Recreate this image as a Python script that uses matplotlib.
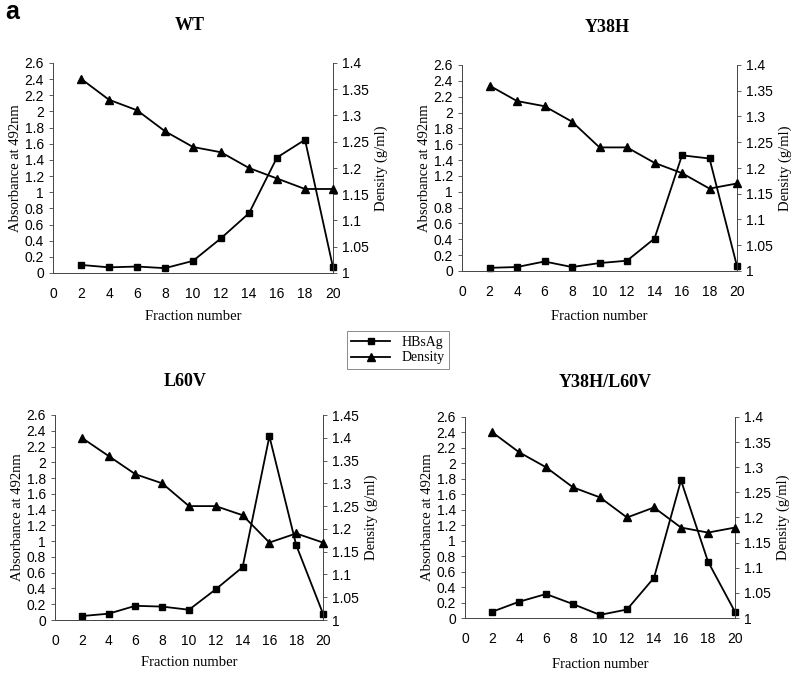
import matplotlib.pyplot as plt

fractions = [2, 4, 6, 8, 10, 12, 14, 16, 18, 20]
panel_titles = ['WT', 'Y38H', 'L60V', 'Y38H/L60V']

hbsag_wt = [0.10, 0.07, 0.08, 0.06, 0.15, 0.43, 0.74, 1.43, 1.65, 0.07]
density_wt = [1.37, 1.33, 1.31, 1.27, 1.24, 1.23, 1.20, 1.18, 1.16, 1.16]

hbsag_y38h = [0.04, 0.05, 0.12, 0.05, 0.10, 0.13, 0.41, 1.46, 1.42, 0.06]
density_y38h = [1.36, 1.33, 1.32, 1.29, 1.24, 1.24, 1.21, 1.19, 1.16, 1.17]

hbsag_l60v = [0.05, 0.08, 0.18, 0.17, 0.13, 0.39, 0.67, 2.33, 0.95, 0.08]
density_l60v = [1.40, 1.36, 1.32, 1.30, 1.25, 1.25, 1.23, 1.17, 1.19, 1.17]

hbsag_dbl = [0.08, 0.21, 0.31, 0.18, 0.04, 0.11, 0.52, 1.78, 0.73, 0.08]
density_dbl = [1.37, 1.33, 1.30, 1.26, 1.24, 1.20, 1.22, 1.18, 1.17, 1.18]

abs_ticks = [0, 0.2, 0.4, 0.6, 0.8, 1, 1.2, 1.4, 1.6, 1.8, 2, 2.2, 2.4, 2.6]
dens_ticks_a = [1, 1.05, 1.1, 1.15, 1.2, 1.25, 1.3, 1.35, 1.4]
dens_ticks_b = [1, 1.05, 1.1, 1.15, 1.2, 1.25, 1.3, 1.35, 1.4, 1.45]

W, H = 800, 676
# pixel boxes: left, right, top, bottom
boxes = [(53, 333, 63, 273), (462, 737, 65, 271), (55, 323, 415, 620), (465, 735, 417, 618)]
title_pos = [(190, 25), (607, 27), (185, 382), (605, 383)]
xlabel_y = [317, 317, 663, 664]
data = [(hbsag_wt, density_wt, dens_ticks_a), (hbsag_y38h, density_y38h, dens_ticks_a),
        (hbsag_l60v, density_l60v, dens_ticks_b), (hbsag_dbl, density_dbl, dens_ticks_a)]

serif = 'Liberation Serif'
sans = 'Liberation Sans'

fig = plt.figure(figsize=(8, 6.76), dpi=100)

for i, (l, r, t, b) in enumerate(boxes):
    hb, dens, dticks = data[i]
    ax = fig.add_axes([l / W, 1 - b / H, (r - l) / W, (b - t) / H])
    ax2 = ax.twinx()
    ax.plot(fractions, hb, color='black', lw=1.3, marker='s', ms=5, clip_on=False, zorder=5)
    ax2.plot(fractions, dens, color='black', lw=1.3, marker='^', ms=6, clip_on=False, zorder=5)
    ax.set_xlim(0, 20)
    ax.set_ylim(0, 2.6)
    ax2.set_ylim(dticks[0], dticks[-1])
    ax.set_xticks(range(0, 21, 2))
    ax.set_yticks(abs_ticks)
    ax.set_yticklabels(['%g' % v for v in abs_ticks])
    ax2.set_yticks(dticks)
    ax2.set_yticklabels(['%g' % v for v in dticks])
    for a in (ax, ax2):
        a.spines['top'].set_visible(False)
        for s in a.spines.values():
            s.set_linewidth(0.6)
            s.set_color('#444444')
        a.tick_params(labelsize=10, width=0.6, length=3, colors='#444444', labelcolor='black')
        for lab in a.get_xticklabels() + a.get_yticklabels():
            lab.set_fontfamily(sans)
    ax.tick_params(axis='x', length=0, pad=10)
    ax.set_ylabel('Absorbance at 492nm', fontfamily=serif, fontsize=10.5, labelpad=2)
    ax2.set_ylabel('Density (g/ml)', fontfamily=serif, fontsize=10.5, labelpad=4)
    fig.text((l + r) / 2 / W, 1 - xlabel_y[i] / H, 'Fraction number', ha='center', va='center',
             fontfamily=serif, fontsize=10.5)
    tx, ty = title_pos[i]
    fig.text(tx / W, 1 - ty / H, panel_titles[i], ha='center', va='center',
             fontfamily=serif, fontsize=13, fontweight='bold')

fig.text(5 / W, 1 - 12 / H, 'a', ha='left', va='center', fontfamily=sans,
         fontsize=18, fontweight='bold')

# shared legend
h1, = plt.plot([], [], color='black', lw=1.3, marker='s', ms=5, label='HBsAg')
h2, = plt.plot([], [], color='black', lw=1.3, marker='^', ms=6, label='Density')
leg = fig.legend(handles=[h1, h2], loc='center', bbox_to_anchor=(398 / W, 1 - 350 / H),
                 prop={'family': serif, 'size': 10}, fancybox=False, edgecolor='#555555',
                 handlelength=2.8, borderpad=0.3, labelspacing=0.2, handletextpad=0.8)
leg.get_frame().set_linewidth(0.6)

fig.savefig('out.png', dpi=100)
